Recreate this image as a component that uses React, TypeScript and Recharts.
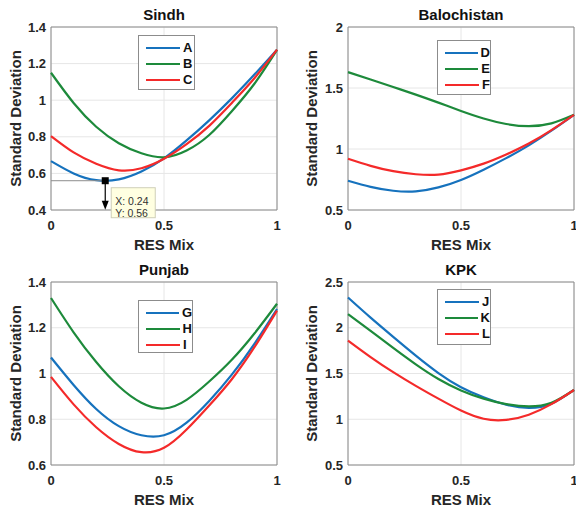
import React from 'react';
import {
  LineChart,
  Line,
  XAxis,
  YAxis,
  CartesianGrid,
  Legend,
  Label,
  ReferenceArea,
  ReferenceLine,
  ReferenceDot
} from 'recharts';

// RES mix share on the x axis
const resMix = [0, 0.1, 0.2, 0.3, 0.4, 0.5, 0.6, 0.7, 0.8, 0.9, 1];
const xTicks = [0, 0.5, 1];

// Sindh
const sindhA = [0.667, 0.6, 0.563, 0.567, 0.61, 0.682, 0.78, 0.89, 1.01, 1.14, 1.276];
const sindhB = [1.15, 0.985, 0.855, 0.765, 0.71, 0.688, 0.725, 0.81, 0.94, 1.09, 1.275];
const sindhC = [0.804, 0.715, 0.653, 0.617, 0.628, 0.68, 0.76, 0.86, 0.985, 1.12, 1.276];
const sindhTicks = [0.4, 0.6, 0.8, 1, 1.2, 1.4];

// Balochistan
const baloD = [0.74, 0.69, 0.658, 0.653, 0.685, 0.746, 0.83, 0.925, 1.03, 1.15, 1.28];
const baloE = [1.63, 1.57, 1.508, 1.446, 1.38, 1.312, 1.25, 1.205, 1.187, 1.21, 1.28];
const baloF = [0.92, 0.862, 0.818, 0.793, 0.79, 0.825, 0.88, 0.955, 1.045, 1.155, 1.28];
const baloTicks = [0.5, 1, 1.5, 2];

// Punjab
const punjabG = [1.07, 0.95, 0.845, 0.77, 0.73, 0.73, 0.785, 0.88, 0.995, 1.13, 1.282];
const punjabH = [1.33, 1.18, 1.05, 0.944, 0.872, 0.847, 0.885, 0.965, 1.06, 1.175, 1.305];
const punjabI = [0.985, 0.865, 0.765, 0.692, 0.656, 0.675, 0.755, 0.86, 0.975, 1.115, 1.275];
const punjabTicks = [0.6, 0.8, 1, 1.2, 1.4];

// KPK
const kpkJ = [2.33, 2.11, 1.9, 1.695, 1.505, 1.35, 1.24, 1.16, 1.125, 1.17, 1.32];
const kpkK = [2.15, 1.965, 1.78, 1.6, 1.44, 1.315, 1.225, 1.165, 1.14, 1.18, 1.32];
const kpkL = [1.86, 1.68, 1.515, 1.365, 1.225, 1.095, 1.005, 0.993, 1.05, 1.165, 1.32];
const kpkTicks = [0.5, 1, 1.5, 2, 2.5];

// data tip on Sindh curve A
const tipX = 0.24;
const tipY = 0.56;

const FONT = '"Liberation Sans", Arial, Helvetica, sans-serif';
const INK = '#262626';
const BLUE = '#1672bd';
const GREEN = '#1d8a3b';
const RED = '#f42a2a';

type Series = { key: string; values: number[]; color: string };
type Box = { left: number; top: number; width: number; height: number };

interface PanelProps {
  title: string;
  series: Series[];
  yTicks: number[];
  axisWidth: number;
  rightMargin: number;
  yLabelX: number;
  legend: Box;
  children?: React.ReactNode;
}

const W = 288;
const H = 255;
const TOP = 27;
const XAXIS_H = 45;

const tickStyle = { fill: INK, fontSize: 13, fontWeight: 'bold', fontFamily: FONT };

const legendContent = (box: Box) => (props: any) => {
  const items = props.payload || [];
  return (
    <div
      style={{
        width: box.width,
        height: box.height,
        boxSizing: 'border-box',
        border: '1px solid #8c8c8c',
        background: '#fff',
        paddingTop: 4
      }}
    >
      {items.map((it: any) => (
        <div key={it.value} style={{ display: 'flex', alignItems: 'center', height: 16 }}>
          <span
            style={{
              display: 'inline-block',
              width: 34,
              height: 0,
              borderTop: `2.5px solid ${it.color}`,
              marginLeft: 7
            }}
          />
          <span
            style={{
              marginLeft: 3,
              fontSize: 13,
              fontWeight: 'bold',
              fontFamily: FONT,
              color: '#111',
              lineHeight: '16px'
            }}
          >
            {it.value}
          </span>
        </div>
      ))}
    </div>
  );
};

const yLabel = (labelX: number) => (props: any) => {
  const vb = props.viewBox;
  const cy = vb.y + vb.height / 2;
  return (
    <text
      x={labelX}
      y={cy}
      transform={`rotate(-90 ${labelX} ${cy})`}
      textAnchor="middle"
      dominantBaseline="central"
      fill={INK}
      fontSize={15}
      fontWeight="bold"
      fontFamily={FONT}
    >
      Standard Deviation
    </text>
  );
};

const xLabel = (props: any) => {
  const vb = props.viewBox;
  return (
    <text
      x={vb.x + vb.width / 2}
      y={vb.y + 34}
      textAnchor="middle"
      dominantBaseline="central"
      fill={INK}
      fontSize={15}
      fontWeight="bold"
      fontFamily={FONT}
    >
      RES Mix
    </text>
  );
};

const DataTip = (props: any) => {
  const { cx, cy } = props;
  return (
    <g>
      <line x1={cx} y1={cy} x2={cx} y2={cy + 22} stroke="#000" strokeWidth={1.2} />
      <path d={`M${cx - 3.5},${cy + 20} L${cx + 3.5},${cy + 20} L${cx},${cy + 29} Z`} fill="#000" />
      <rect x={cx - 3.5} y={cy - 3.5} width={7} height={7} fill="#000" />
      <rect x={cx + 6} y={cy + 7} width={44} height={30} fill="#ffffe1" stroke="#cfcfb8" />
      <text x={cx + 10} y={cy + 24} fontSize={10.5} fill="#333" fontFamily={FONT}>
        {`X: ${tipX.toFixed(2)}`}
      </text>
      <text x={cx + 10} y={cy + 36} fontSize={10.5} fill="#333" fontFamily={FONT}>
        {`Y: ${tipY.toFixed(2)}`}
      </text>
    </g>
  );
};

const Panel: React.FC<PanelProps> = ({ title, series, yTicks, axisWidth, rightMargin, yLabelX, legend, children }) => {
  const data = resMix.map((x, i) => {
    const row: any = { x };
    series.forEach((s) => {
      row[s.key] = s.values[i];
    });
    return row;
  });
  const yMin = yTicks[0];
  const yMax = yTicks[yTicks.length - 1];
  const plotW = W - axisWidth - rightMargin;

  return (
    <div style={{ position: 'relative', width: W, height: H }}>
      <div
        style={{
          position: 'absolute',
          left: axisWidth,
          width: plotW,
          top: 6,
          lineHeight: '18px',
          textAlign: 'center',
          fontSize: 15,
          fontWeight: 'bold',
          fontFamily: FONT,
          color: '#111'
        }}
      >
        {title}
      </div>
      <LineChart width={W} height={H} data={data} margin={{ top: TOP, right: rightMargin, bottom: 0, left: 0 }}>
        <CartesianGrid stroke="#e6e6e6" />
        <XAxis
          dataKey="x"
          type="number"
          domain={[0, 1]}
          ticks={xTicks}
          interval={0}
          tickSize={0}
          tickMargin={11}
          axisLine={false}
          height={XAXIS_H}
          tick={tickStyle}
        >
          <Label content={xLabel} />
        </XAxis>
        <YAxis
          type="number"
          domain={[yMin, yMax]}
          ticks={yTicks}
          interval={0}
          allowDataOverflow
          tickSize={0}
          tickMargin={5}
          axisLine={false}
          width={axisWidth}
          tick={tickStyle}
        >
          <Label content={yLabel(yLabelX)} />
        </YAxis>
        <ReferenceArea x1={0} x2={1} y1={yMin} y2={yMax} fill="none" stroke="#8a8a8a" strokeWidth={1} ifOverflow="visible" />
        {series.map((s) => (
          <Line
            key={s.key}
            type="natural"
            dataKey={s.key}
            name={s.key}
            stroke={s.color}
            strokeWidth={2.2}
            dot={false}
            activeDot={false}
            isAnimationActive={false}
          />
        ))}
        {children}
        <Legend
          layout="vertical"
          align="center"
          verticalAlign="middle"
          content={legendContent(legend)}
          wrapperStyle={{ left: legend.left, top: legend.top, width: legend.width, height: legend.height }}
        />
      </LineChart>
    </div>
  );
};

const App: React.FC = () => {
  return (
    <div style={{ position: 'absolute', left: 0, top: 0, width: 576, height: 510, background: '#fff' }}>
      <div style={{ position: 'absolute', left: 0, top: 0 }}>
        <Panel
          title="Sindh"
          series={[
            { key: 'A', values: sindhA, color: BLUE },
            { key: 'B', values: sindhB, color: GREEN },
            { key: 'C', values: sindhC, color: RED }
          ]}
          yTicks={sindhTicks}
          axisWidth={51}
          rightMargin={11}
          yLabelX={15}
          legend={{ left: 138, top: 35, width: 57, height: 55 }}
        >
          <ReferenceLine
            segment={[
              { x: 0, y: tipY },
              { x: tipX, y: tipY }
            ]}
            stroke="#8c8c8c"
            strokeWidth={1}
          />
          <ReferenceDot x={tipX} y={tipY} r={3} ifOverflow="visible" shape={DataTip} />
        </Panel>
      </div>
      <div style={{ position: 'absolute', left: 288, top: 0 }}>
        <Panel
          title="Balochistan"
          series={[
            { key: 'D', values: baloD, color: BLUE },
            { key: 'E', values: baloE, color: GREEN },
            { key: 'F', values: baloF, color: RED }
          ]}
          yTicks={baloTicks}
          axisWidth={60}
          rightMargin={2}
          yLabelX={23}
          legend={{ left: 149, top: 40, width: 54, height: 55 }}
        />
      </div>
      <div style={{ position: 'absolute', left: 0, top: 255 }}>
        <Panel
          title="Punjab"
          series={[
            { key: 'G', values: punjabG, color: BLUE },
            { key: 'H', values: punjabH, color: GREEN },
            { key: 'I', values: punjabI, color: RED }
          ]}
          yTicks={punjabTicks}
          axisWidth={51}
          rightMargin={11}
          yLabelX={15}
          legend={{ left: 138, top: 45, width: 55, height: 53 }}
        />
      </div>
      <div style={{ position: 'absolute', left: 288, top: 255 }}>
        <Panel
          title="KPK"
          series={[
            { key: 'J', values: kpkJ, color: BLUE },
            { key: 'K', values: kpkK, color: GREEN },
            { key: 'L', values: kpkL, color: RED }
          ]}
          yTicks={kpkTicks}
          axisWidth={60}
          rightMargin={2}
          yLabelX={23}
          legend={{ left: 149, top: 34, width: 54, height: 56 }}
        />
      </div>
    </div>
  );
};

export default App;
